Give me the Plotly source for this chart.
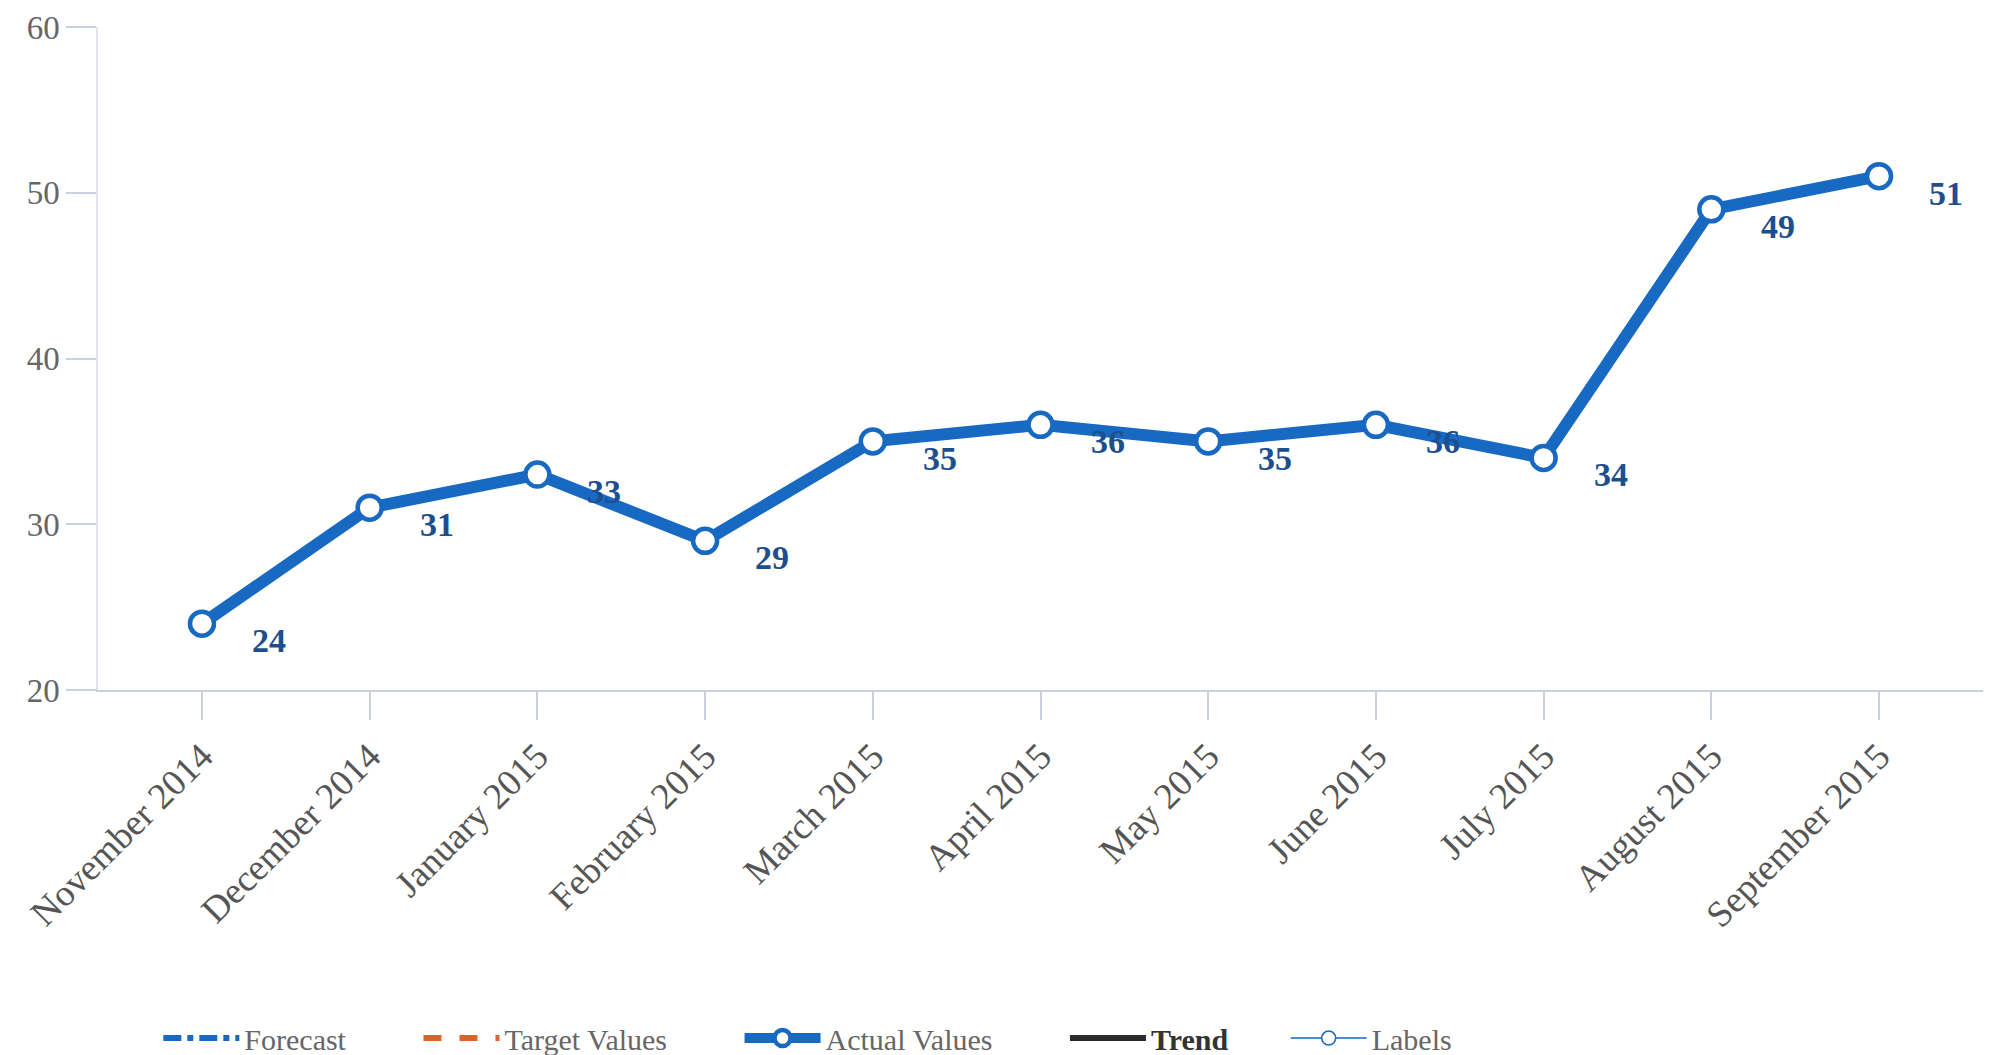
import plotly.graph_objects as go

months = ["November 2014", "December 2014", "January 2015", "February 2015",
          "March 2015", "April 2015", "May 2015", "June 2015", "July 2015",
          "August 2015", "September 2015"]
actual = [24, 31, 33, 29, 35, 36, 35, 36, 34, 49, 51]
y_ticks = [20, 30, 40, 50, 60]

BLUE = "#1769c2"
LABEL_BLUE = "#1d4f8f"
SERIF = "Liberation Serif, Times New Roman, serif"
PAD = "&nbsp;" * 9  # extra room after each legend entry

fig = go.Figure()

# legend-only series (no data shown in the picture)
fig.add_trace(go.Scatter(x=[None], y=[None], name="Forecast" + PAD, mode="lines",
                         line=dict(color=BLUE, width=6, dash="dashdot")))
fig.add_trace(go.Scatter(x=[None], y=[None], name="Target Values" + PAD, mode="lines",
                         line=dict(color="#e0622a", width=6, dash="dash")))

fig.add_trace(go.Scatter(
    x=months, y=actual, name="Actual Values" + PAD, mode="lines+markers",
    line=dict(color=BLUE, width=12),
    marker=dict(size=24, color="white", line=dict(color=BLUE, width=4.5)),
))

fig.add_trace(go.Scatter(x=[None], y=[None],
                         name='<span style="color:#333"><b>Trend</b></span>' + "&nbsp;" * 7,
                         mode="lines", line=dict(color="#2b2b2b", width=6)))
fig.add_trace(go.Scatter(x=[None], y=[None], name="Labels", mode="lines+markers",
                         line=dict(color=BLUE, width=1.5),
                         marker=dict(size=14, color="white", line=dict(color=BLUE, width=1.5))))

# value labels, offset down-right of each point
for m, v in zip(months, actual):
    fig.add_annotation(x=m, y=v, text=f"<b>{v}</b>", showarrow=False,
                       xshift=67, yshift=-17,
                       font=dict(family=SERIF, size=34, color=LABEL_BLUE))

fig.update_layout(
    width=1993, height=1055,
    paper_bgcolor="white", plot_bgcolor="white",
    margin=dict(l=90, r=18, t=19, b=373, autoexpand=False),
    font=dict(family=SERIF, color="#666"),
    showlegend=True,
    legend=dict(orientation="h", x=0.032, xanchor="left", y=-0.525, yanchor="middle",
                font=dict(family=SERIF, size=30, color="#666"),
                itemwidth=76, bgcolor="rgba(0,0,0,0)"),
)

fig.update_xaxes(
    type="category", range=[-0.62, 10.62], automargin=False,
    showgrid=False, zeroline=False,
    showline=True, linecolor="#c8cfe0", linewidth=1.5,
    ticks="outside", ticklen=28, tickcolor="#c8cfe0", tickwidth=1.5,
    tickangle=-45, tickfont=dict(family=SERIF, size=37, color="#555"),
)
fig.update_yaxes(
    range=[20, 60], tickvals=y_ticks, automargin=False, ticklabeloverflow="allow",
    showgrid=False, zeroline=False,
    showline=True, linecolor="#dde2ee", linewidth=1.5,
    ticks="outside", ticklen=30, tickcolor="#c8cfe0", tickwidth=1.5,
    tickfont=dict(family=SERIF, size=33, color="#666"),
)

fig.write_html("out.html")
